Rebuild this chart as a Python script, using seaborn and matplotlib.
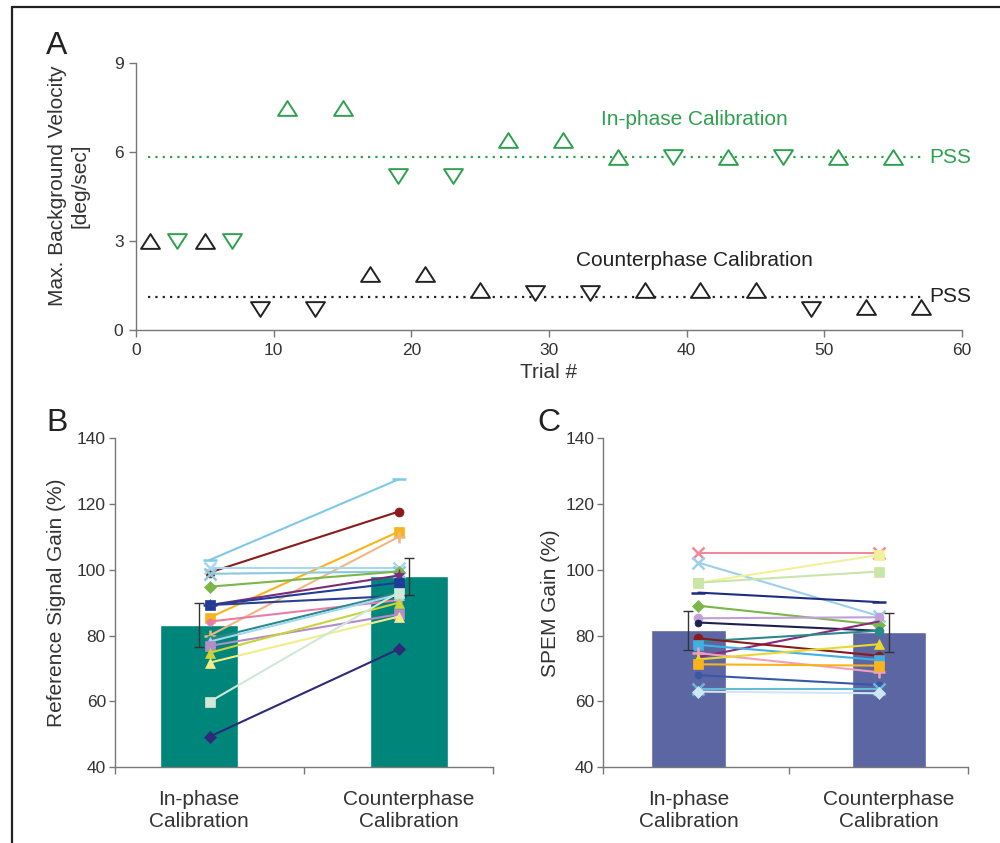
import numpy as np
import pandas as pd
import matplotlib
matplotlib.use("Agg")
import matplotlib.pyplot as plt
import seaborn as sns
from matplotlib.path import Path
from matplotlib.lines import Line2D

sns.set_theme(style="ticks")
plt.rcParams["font.family"] = ["Liberation Sans", "DejaVu Sans"]

# ---------------- Panel A data ----------------
inphase_trials = [3, 7, 11, 15, 19, 23, 27, 31, 35, 39, 43, 47, 51, 55]
inphase_vel = [3.0, 3.0, 7.5, 7.5, 5.2, 5.2, 6.4, 6.4, 5.82, 5.82, 5.82, 5.82, 5.82, 5.82]
inphase_dir = ["down", "down", "up", "up", "down", "down", "up", "up",
               "up", "down", "up", "down", "up", "up"]
counter_trials = [1, 5, 9, 13, 17, 21, 25, 29, 33, 37, 41, 45, 49, 53, 57]
counter_vel = [3.0, 3.0, 0.7, 0.7, 1.9, 1.9, 1.35, 1.26, 1.26, 1.35, 1.35, 1.35, 0.7, 0.79, 0.79]
counter_dir = ["up", "up", "down", "down", "up", "up", "up", "down", "down",
               "up", "up", "up", "down", "up", "up"]
pss_inphase = 5.82
pss_counter = 1.12

# ---------------- Panels B / C data ----------------
conditions = ["In-phase\nCalibration", "Counterphase\nCalibration"]

ref_bar_mean = [83.2, 98.0]
ref_bar_err = [6.6, 5.7]
ref_inphase = [103.0, 99.2, 85.5, 80.0, 100.5, 98.8, 94.9, 89.3, 89.3, 89.3,
               84.3, 79.0, 78.2, 76.9, 74.8, 71.8, 59.9, 49.3]
ref_counter = [127.5, 117.7, 111.6, 110.0, 100.5, 99.5, 99.5, 98.3, 96.1, 92.1,
               90.8, 93.0, 92.5, 86.5, 90.0, 85.8, 93.1, 75.9]
ref_colors = ["#7ec8e8", "#8b1a1a", "#f9b31b", "#f0b880", "#a8d8ee", "#8cc8dc",
              "#7ab648", "#7b2a7b", "#1f3c99", "#2a3f8f", "#e87ca8", "#2a8a8a",
              "#a0d8ef", "#b48cc8", "#c8d43a", "#f2ec8a", "#cfe8d8", "#2e2a7a"]
ref_markers = ["_", "o", "s", "+", "x", "x", "D", "*", "s", "_", ".", ".",
               "^", "s", "^", "^", "s", "D"]

spem_bar_mean = [81.7, 81.0]
spem_bar_err = [5.9, 6.0]
spem_inphase = [105.2, 102.2, 96.1, 96.1, 93.1, 89.1, 85.3, 84.0, 73.5, 78.2,
                79.2, 77.2, 74.7, 72.8, 71.3, 68.0, 63.8, 63.0]
spem_counter = [105.2, 86.0, 104.5, 99.5, 90.2, 83.3, 85.6, 81.5, 84.3, 81.5,
                73.9, 72.6, 68.9, 77.4, 70.9, 65.0, 63.8, 62.5]
spem_colors = ["#f08a9a", "#9cd0ec", "#f3f09a", "#c8e6a8", "#1f2d80", "#7ab648",
               "#c0a0d8", "#202050", "#8a2a7a", "#2a8a8a", "#8b1a1a", "#3fb0e0",
               "#f0a0b8", "#e8d830", "#f9b31b", "#3858a8", "#6ab8d8", "#cde8f4"]
spem_markers = ["x", "x", "s", "s", "_", "D", "o", ".", "", "o", "o", "s",
                "+", "^", "s", ".", "x", "D"]

GREEN = "#2fa04f"
SPINE = "#777777"
TXT = "#333333"

fig = plt.figure(figsize=(10, 8.43), dpi=100)

# frame lines (left and top)
fig.add_artist(Line2D([0.012, 0.012], [0.0, 0.9917], color="#222222", lw=1.6))
fig.add_artist(Line2D([0.012, 1.0], [0.9917, 0.9917], color="#222222", lw=1.6))


def style_axis(ax):
    sns.despine(ax=ax)
    for s in ("left", "bottom"):
        ax.spines[s].set_color(SPINE)
        ax.spines[s].set_linewidth(1.0)
    ax.tick_params(axis="both", which="both", direction="out", color=SPINE,
                   labelcolor=TXT, labelsize=12.5, width=1.0)


# ---------------- Panel A ----------------
axA = fig.add_axes([0.136, 0.6085, 0.826, 0.3167])
up = Path([(-1, -0.78), (1, -0.78), (0, 0.78), (-1, -0.78)],
          [Path.MOVETO, Path.LINETO, Path.LINETO, Path.CLOSEPOLY])
down = Path([(-1, 0.78), (1, 0.78), (0, -0.78), (-1, 0.78)],
            [Path.MOVETO, Path.LINETO, Path.LINETO, Path.CLOSEPOLY])

dfA = pd.DataFrame({
    "trial": inphase_trials + counter_trials,
    "vel": inphase_vel + counter_vel,
    "dir": inphase_dir + counter_dir,
    "cond": ["in"] * len(inphase_trials) + ["counter"] * len(counter_trials),
})

axA.plot([0.9, 57.2], [pss_inphase, pss_inphase], color=GREEN, lw=1.6,
         linestyle=(0, (1, 2.3)), zorder=1)
axA.plot([0.9, 57.0], [pss_counter, pss_counter], color="#222222", lw=1.6,
         linestyle=(0, (1, 2.3)), zorder=1)

for cond, col in (("in", GREEN), ("counter", "#222222")):
    for d, mk in (("up", up), ("down", down)):
        sub = dfA[(dfA["cond"] == cond) & (dfA["dir"] == d)]
        axA.scatter(sub["trial"], sub["vel"], marker=mk, s=185,
                    facecolors="white", edgecolors=col, linewidths=1.4, zorder=3)

axA.set_xlim(0, 60)
axA.set_ylim(0, 9)
axA.set_xticks(range(0, 61, 10))
axA.set_yticks([0, 3, 6, 9])
style_axis(axA)
axA.tick_params(length=5, pad=4)
axA.set_xlabel("Trial #", fontsize=15, color=TXT, labelpad=4)
axA.set_ylabel("Max. Background Velocity\n[deg/sec]", fontsize=15, color=TXT,
               va="center", linespacing=1.25)
axA.yaxis.set_label_coords(-0.081, 0.54)

axA.text(33.8, 7.11, "In-phase Calibration", color=GREEN, fontsize=15,
         ha="left", va="center")
axA.text(31.95, 2.34, "Counterphase Calibration", color="#222222", fontsize=15,
         ha="left", va="center")
axA.text(57.6, pss_inphase, "PSS", color=GREEN, fontsize=15, ha="left", va="center")
axA.text(57.6, pss_counter, "PSS", color="#222222", fontsize=15, ha="left", va="center")


# ---------------- Panels B and C ----------------
def gain_panel(rect, xlim, means, errs, vin, vout, colors, markers, bar_color, ylabel, lab_x):
    ax = fig.add_axes(rect)
    sns.barplot(x=conditions, y=means, ax=ax, color=bar_color, width=0.37,
                saturation=1, errorbar=None, zorder=1)
    for a, b, c, m in zip(vin, vout, colors, markers):
        ms = 8 if m in ("x", "+", "*") else 6.5
        if m in (".", "_"):
            ms = 10
        ax.plot([0.05, 0.95], [a, b], color=c, lw=1.5, marker=(m if m else None),
                markersize=ms, markeredgewidth=1.8 if m in ("x", "+", "_") else 0.5,
                markeredgecolor=c, markerfacecolor=c, zorder=3)
    ax.errorbar([0, 1], means, yerr=errs, fmt="none", ecolor="#333333",
                elinewidth=1.0, capsize=3.5, capthick=1.0, zorder=4)
    ax.set_xlim(*xlim)
    ax.set_ylim(40, 140)
    ax.set_yticks(range(40, 141, 20))
    style_axis(ax)
    ax.set_xticks([0, 1])
    ax.set_xticklabels(conditions, fontsize=15, color=TXT, linespacing=1.25)
    ax.set_xticks([xlim[0], 0.5, xlim[1]], minor=True)
    ax.tick_params(axis="x", which="major", length=0, pad=16, labelsize=15)
    ax.tick_params(axis="x", which="minor", length=5)
    ax.tick_params(axis="y", length=4.5, pad=2)
    ax.set_xlabel("")
    ax.set_ylabel(ylabel, fontsize=15, color=TXT, va="center")
    ax.yaxis.set_label_coords(lab_x, 0.5)
    return ax


axB = gain_panel([0.115, 0.0898, 0.378, 0.3903], (-0.4, 1.4), ref_bar_mean, ref_bar_err,
                 ref_inphase, ref_counter, ref_colors, ref_markers, "#00857a",
                 "Reference Signal Gain (%)", -0.156)
axC = gain_panel([0.6033, 0.0898, 0.365, 0.3903], (-0.425, 1.397), spem_bar_mean, spem_bar_err,
                 spem_inphase, spem_counter, spem_colors, spem_markers, "#5b66a2",
                 "SPEM Gain (%)", -0.146)

# panel letters
for x, y, t in ((0.046, 1 - 54 / 843, "A"), (0.046, 1 - 431 / 843, "B"),
                (0.537, 1 - 431 / 843, "C")):
    fig.text(x, y, t, fontsize=23, color="#222222", ha="left", va="baseline",
             family=["Liberation Sans Narrow", "Liberation Sans", "DejaVu Sans"])

fig.savefig("out.png", dpi=100)
